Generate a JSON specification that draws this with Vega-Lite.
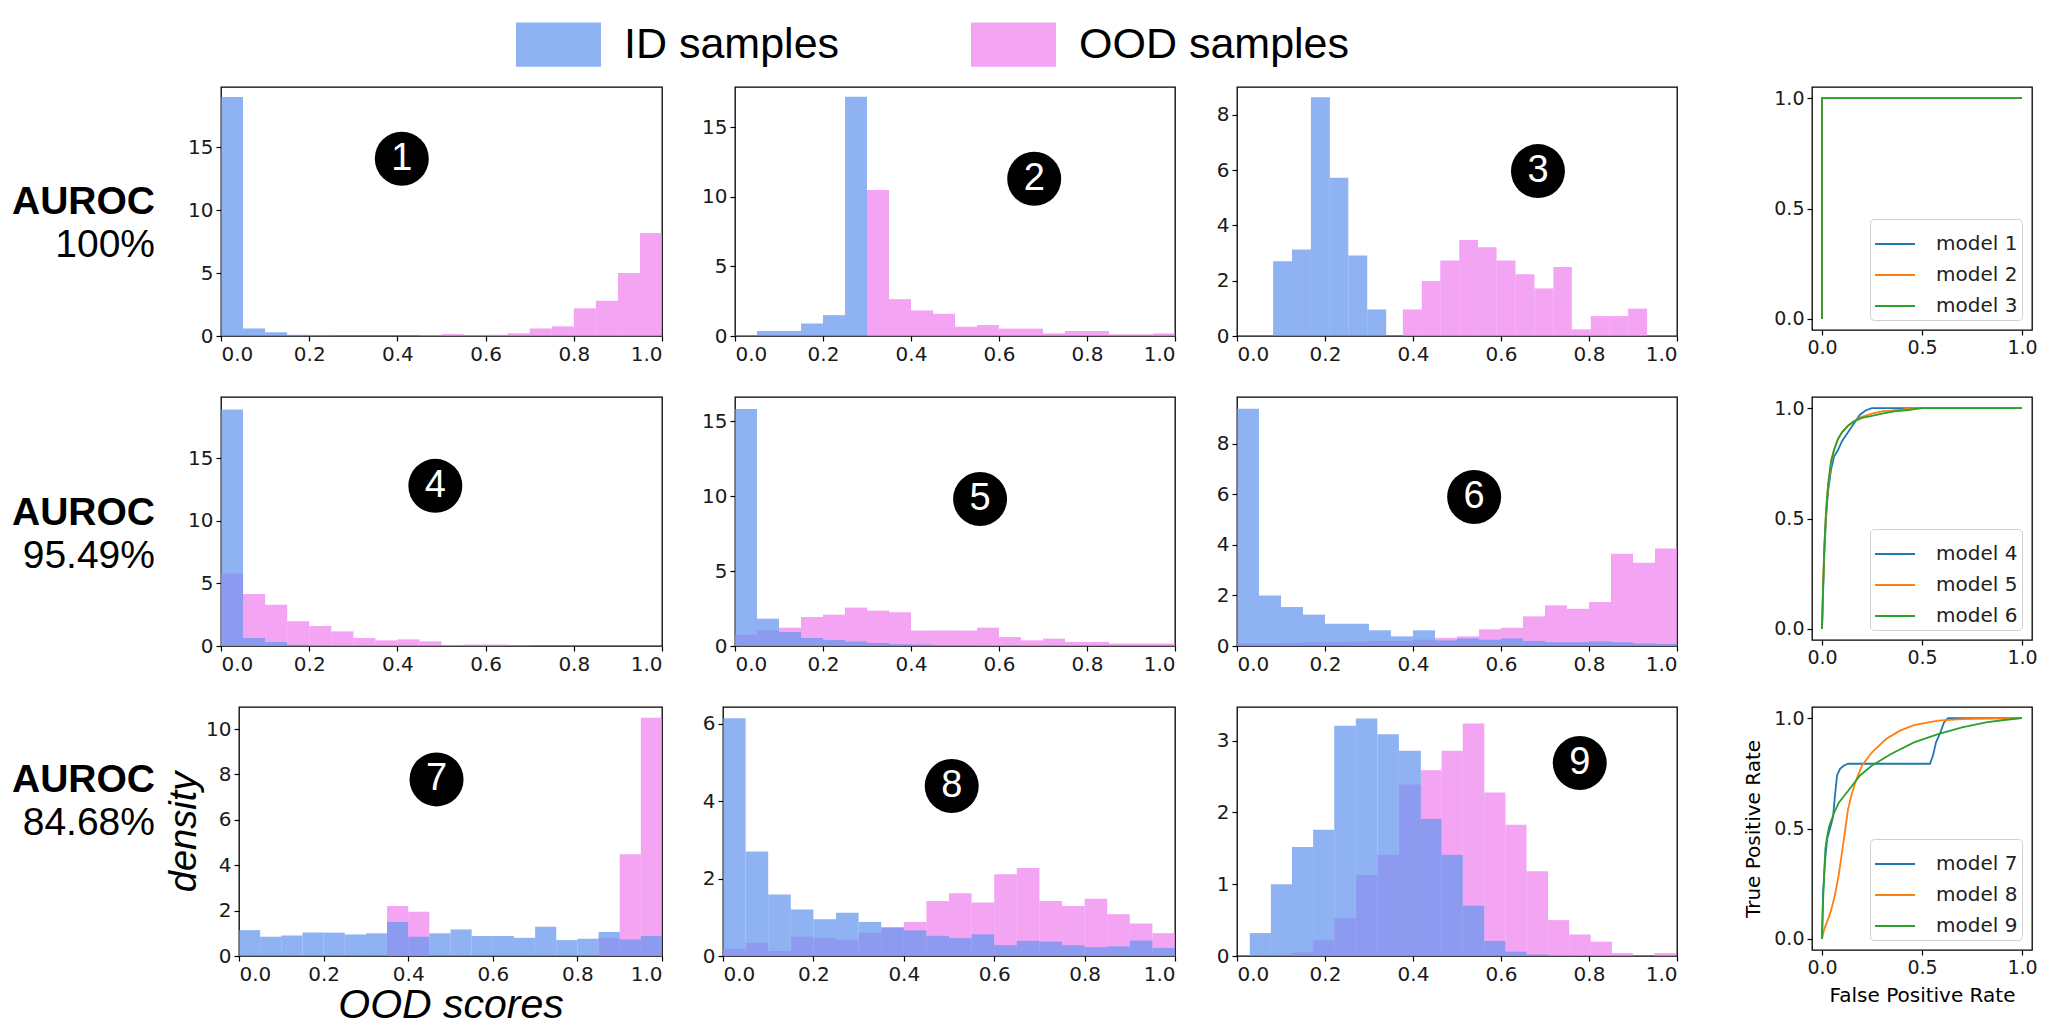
{
"$schema": "https://vega.github.io/schema/vega-lite/v6.json",
"background": "white",
"padding": {"left": 0, "top": 0, "right": 0, "bottom": 0},
"config": {
  "view": {"stroke": "black", "strokeWidth": 1.3},
  "axis": {"grid": false, "domain": false, "ticks": true, "tickColor": "black", "tickSize": 5, "tickWidth": 1.2, "labelFont": "DejaVu Sans", "labelFontSize": 20, "labelColor": "#1a1a1a", "labelPadding": 3, "titleColor": "black"}
},
"datasets": {
"auroc": [
{"row":1,"name":"AUROC","auroc":"100%"},
{"row":2,"name":"AUROC","auroc":"95.49%"},
{"row":3,"name":"AUROC","auroc":"84.68%"}
],
"marks": [
{"panel":1,"num":"1","x0":0.41,"density":14.1},
{"panel":2,"num":"2","x0":0.68,"density":11.3},
{"panel":3,"num":"3","x0":0.684,"density":5.96},
{"panel":4,"num":"4","x0":0.486,"density":12.8},
{"panel":5,"num":"5","x0":0.557,"density":9.8},
{"panel":6,"num":"6","x0":0.539,"density":5.89},
{"panel":7,"num":"7","x0":0.467,"density":7.78},
{"panel":8,"num":"8","x0":0.506,"density":4.39},
{"panel":9,"num":"9","x0":0.779,"density":2.69}
],
"hist": [
{"panel":1,"set":"OOD samples","x0":0.45,"x1":0.5,"density":0.05},
{"panel":1,"set":"OOD samples","x0":0.5,"x1":0.55,"density":0.15},
{"panel":1,"set":"OOD samples","x0":0.55,"x1":0.6,"density":0.05},
{"panel":1,"set":"OOD samples","x0":0.6,"x1":0.65,"density":0.1},
{"panel":1,"set":"OOD samples","x0":0.65,"x1":0.7,"density":0.22},
{"panel":1,"set":"OOD samples","x0":0.7,"x1":0.75,"density":0.6},
{"panel":1,"set":"OOD samples","x0":0.75,"x1":0.8,"density":0.77},
{"panel":1,"set":"OOD samples","x0":0.8,"x1":0.85,"density":2.2},
{"panel":1,"set":"OOD samples","x0":0.85,"x1":0.9,"density":2.8},
{"panel":1,"set":"OOD samples","x0":0.9,"x1":0.95,"density":5.0},
{"panel":1,"set":"OOD samples","x0":0.95,"x1":1.0,"density":8.2},
{"panel":1,"set":"ID samples","x0":0,"x1":0.05,"density":19.0},
{"panel":1,"set":"ID samples","x0":0.05,"x1":0.1,"density":0.6},
{"panel":1,"set":"ID samples","x0":0.1,"x1":0.15,"density":0.3},
{"panel":1,"set":"ID samples","x0":0.15,"x1":0.2,"density":0.1},
{"panel":1,"set":"ID samples","x0":0.2,"x1":0.25,"density":0.05},

{"panel":2,"set":"OOD samples","x0":0.3,"x1":0.35,"density":10.5},
{"panel":2,"set":"OOD samples","x0":0.35,"x1":0.4,"density":2.65},
{"panel":2,"set":"OOD samples","x0":0.4,"x1":0.45,"density":1.84},
{"panel":2,"set":"OOD samples","x0":0.45,"x1":0.5,"density":1.6},
{"panel":2,"set":"OOD samples","x0":0.5,"x1":0.55,"density":0.67},
{"panel":2,"set":"OOD samples","x0":0.55,"x1":0.6,"density":0.79},
{"panel":2,"set":"OOD samples","x0":0.6,"x1":0.65,"density":0.53},
{"panel":2,"set":"OOD samples","x0":0.65,"x1":0.7,"density":0.53},
{"panel":2,"set":"OOD samples","x0":0.7,"x1":0.75,"density":0.19},
{"panel":2,"set":"OOD samples","x0":0.75,"x1":0.8,"density":0.36},
{"panel":2,"set":"OOD samples","x0":0.8,"x1":0.85,"density":0.36},
{"panel":2,"set":"OOD samples","x0":0.85,"x1":0.9,"density":0.12},
{"panel":2,"set":"OOD samples","x0":0.9,"x1":0.95,"density":0.12},
{"panel":2,"set":"OOD samples","x0":0.95,"x1":1.0,"density":0.19},
{"panel":2,"set":"ID samples","x0":0,"x1":0.05,"density":0.05},
{"panel":2,"set":"ID samples","x0":0.05,"x1":0.1,"density":0.36},
{"panel":2,"set":"ID samples","x0":0.1,"x1":0.15,"density":0.36},
{"panel":2,"set":"ID samples","x0":0.15,"x1":0.2,"density":0.9},
{"panel":2,"set":"ID samples","x0":0.2,"x1":0.25,"density":1.5},
{"panel":2,"set":"ID samples","x0":0.25,"x1":0.3,"density":17.2},

{"panel":3,"set":"OOD samples","x0":0.377,"x1":0.42,"density":0.96},
{"panel":3,"set":"OOD samples","x0":0.42,"x1":0.462,"density":1.99},
{"panel":3,"set":"OOD samples","x0":0.462,"x1":0.505,"density":2.73},
{"panel":3,"set":"OOD samples","x0":0.505,"x1":0.548,"density":3.47},
{"panel":3,"set":"OOD samples","x0":0.548,"x1":0.59,"density":3.21},
{"panel":3,"set":"OOD samples","x0":0.59,"x1":0.633,"density":2.73},
{"panel":3,"set":"OOD samples","x0":0.633,"x1":0.676,"density":2.23},
{"panel":3,"set":"OOD samples","x0":0.676,"x1":0.719,"density":1.72},
{"panel":3,"set":"OOD samples","x0":0.719,"x1":0.761,"density":2.49},
{"panel":3,"set":"OOD samples","x0":0.761,"x1":0.804,"density":0.24},
{"panel":3,"set":"OOD samples","x0":0.804,"x1":0.847,"density":0.72},
{"panel":3,"set":"OOD samples","x0":0.847,"x1":0.889,"density":0.72},
{"panel":3,"set":"OOD samples","x0":0.889,"x1":0.932,"density":0.99},
{"panel":3,"set":"ID samples","x0":0.082,"x1":0.125,"density":2.7},
{"panel":3,"set":"ID samples","x0":0.125,"x1":0.168,"density":3.13},
{"panel":3,"set":"ID samples","x0":0.168,"x1":0.211,"density":8.63},
{"panel":3,"set":"ID samples","x0":0.211,"x1":0.253,"density":5.72},
{"panel":3,"set":"ID samples","x0":0.253,"x1":0.296,"density":2.91},
{"panel":3,"set":"ID samples","x0":0.296,"x1":0.339,"density":0.96},

{"panel":4,"set":"OOD samples","x0":0,"x1":0.05,"density":5.8},
{"panel":4,"set":"OOD samples","x0":0.05,"x1":0.1,"density":4.15},
{"panel":4,"set":"OOD samples","x0":0.1,"x1":0.15,"density":3.3},
{"panel":4,"set":"OOD samples","x0":0.15,"x1":0.2,"density":1.97},
{"panel":4,"set":"OOD samples","x0":0.2,"x1":0.25,"density":1.6},
{"panel":4,"set":"OOD samples","x0":0.25,"x1":0.3,"density":1.17},
{"panel":4,"set":"OOD samples","x0":0.3,"x1":0.35,"density":0.64},
{"panel":4,"set":"OOD samples","x0":0.35,"x1":0.4,"density":0.45},
{"panel":4,"set":"OOD samples","x0":0.4,"x1":0.45,"density":0.53},
{"panel":4,"set":"OOD samples","x0":0.45,"x1":0.5,"density":0.37},
{"panel":4,"set":"OOD samples","x0":0.5,"x1":0.55,"density":0.08},
{"panel":4,"set":"OOD samples","x0":0.55,"x1":0.6,"density":0.12},
{"panel":4,"set":"OOD samples","x0":0.6,"x1":0.65,"density":0.12},
{"panel":4,"set":"OOD samples","x0":0.65,"x1":0.7,"density":0.05},
{"panel":4,"set":"ID samples","x0":0,"x1":0.05,"density":18.9},
{"panel":4,"set":"ID samples","x0":0.05,"x1":0.1,"density":0.64},
{"panel":4,"set":"ID samples","x0":0.1,"x1":0.15,"density":0.32},
{"panel":4,"set":"ID samples","x0":0.15,"x1":0.2,"density":0.1},
{"panel":4,"set":"ID samples","x0":0.2,"x1":0.25,"density":0.05},

{"panel":5,"set":"OOD samples","x0":0,"x1":0.05,"density":0.76},
{"panel":5,"set":"OOD samples","x0":0.05,"x1":0.1,"density":1.04},
{"panel":5,"set":"OOD samples","x0":0.1,"x1":0.15,"density":1.22},
{"panel":5,"set":"OOD samples","x0":0.15,"x1":0.2,"density":1.93},
{"panel":5,"set":"OOD samples","x0":0.2,"x1":0.25,"density":2.09},
{"panel":5,"set":"OOD samples","x0":0.25,"x1":0.3,"density":2.56},
{"panel":5,"set":"OOD samples","x0":0.3,"x1":0.35,"density":2.36},
{"panel":5,"set":"OOD samples","x0":0.35,"x1":0.4,"density":2.25},
{"panel":5,"set":"OOD samples","x0":0.4,"x1":0.45,"density":1.03},
{"panel":5,"set":"OOD samples","x0":0.45,"x1":0.5,"density":1.04},
{"panel":5,"set":"OOD samples","x0":0.5,"x1":0.55,"density":1.03},
{"panel":5,"set":"OOD samples","x0":0.55,"x1":0.6,"density":1.22},
{"panel":5,"set":"OOD samples","x0":0.6,"x1":0.65,"density":0.6},
{"panel":5,"set":"OOD samples","x0":0.65,"x1":0.7,"density":0.38},
{"panel":5,"set":"OOD samples","x0":0.7,"x1":0.75,"density":0.49},
{"panel":5,"set":"OOD samples","x0":0.75,"x1":0.8,"density":0.27},
{"panel":5,"set":"OOD samples","x0":0.8,"x1":0.85,"density":0.27},
{"panel":5,"set":"OOD samples","x0":0.85,"x1":0.9,"density":0.16},
{"panel":5,"set":"OOD samples","x0":0.9,"x1":0.95,"density":0.16},
{"panel":5,"set":"OOD samples","x0":0.95,"x1":1.0,"density":0.16},
{"panel":5,"set":"ID samples","x0":0,"x1":0.05,"density":15.8},
{"panel":5,"set":"ID samples","x0":0.05,"x1":0.1,"density":1.82},
{"panel":5,"set":"ID samples","x0":0.1,"x1":0.15,"density":0.93},
{"panel":5,"set":"ID samples","x0":0.15,"x1":0.2,"density":0.53},
{"panel":5,"set":"ID samples","x0":0.2,"x1":0.25,"density":0.4},
{"panel":5,"set":"ID samples","x0":0.25,"x1":0.3,"density":0.3},
{"panel":5,"set":"ID samples","x0":0.3,"x1":0.35,"density":0.2},
{"panel":5,"set":"ID samples","x0":0.35,"x1":0.4,"density":0.12},
{"panel":5,"set":"ID samples","x0":0.4,"x1":0.45,"density":0.1},
{"panel":5,"set":"ID samples","x0":0.45,"x1":0.5,"density":0.05},
{"panel":5,"set":"ID samples","x0":0.5,"x1":0.55,"density":0.05},

{"panel":6,"set":"OOD samples","x0":0,"x1":0.05,"density":0.1},
{"panel":6,"set":"OOD samples","x0":0.05,"x1":0.1,"density":0.1},
{"panel":6,"set":"OOD samples","x0":0.1,"x1":0.15,"density":0.12},
{"panel":6,"set":"OOD samples","x0":0.15,"x1":0.2,"density":0.15},
{"panel":6,"set":"OOD samples","x0":0.2,"x1":0.25,"density":0.15},
{"panel":6,"set":"OOD samples","x0":0.25,"x1":0.3,"density":0.18},
{"panel":6,"set":"OOD samples","x0":0.3,"x1":0.35,"density":0.2},
{"panel":6,"set":"OOD samples","x0":0.35,"x1":0.4,"density":0.2},
{"panel":6,"set":"OOD samples","x0":0.4,"x1":0.45,"density":0.25},
{"panel":6,"set":"OOD samples","x0":0.45,"x1":0.5,"density":0.32},
{"panel":6,"set":"OOD samples","x0":0.5,"x1":0.55,"density":0.38},
{"panel":6,"set":"OOD samples","x0":0.55,"x1":0.6,"density":0.66},
{"panel":6,"set":"OOD samples","x0":0.6,"x1":0.65,"density":0.72},
{"panel":6,"set":"OOD samples","x0":0.65,"x1":0.7,"density":1.17},
{"panel":6,"set":"OOD samples","x0":0.7,"x1":0.75,"density":1.61},
{"panel":6,"set":"OOD samples","x0":0.75,"x1":0.8,"density":1.47},
{"panel":6,"set":"OOD samples","x0":0.8,"x1":0.85,"density":1.74},
{"panel":6,"set":"OOD samples","x0":0.85,"x1":0.9,"density":3.65},
{"panel":6,"set":"OOD samples","x0":0.9,"x1":0.95,"density":3.29},
{"panel":6,"set":"OOD samples","x0":0.95,"x1":1.0,"density":3.85},
{"panel":6,"set":"ID samples","x0":0,"x1":0.05,"density":9.38},
{"panel":6,"set":"ID samples","x0":0.05,"x1":0.1,"density":2.0},
{"panel":6,"set":"ID samples","x0":0.1,"x1":0.15,"density":1.54},
{"panel":6,"set":"ID samples","x0":0.15,"x1":0.2,"density":1.24},
{"panel":6,"set":"ID samples","x0":0.2,"x1":0.25,"density":0.88},
{"panel":6,"set":"ID samples","x0":0.25,"x1":0.3,"density":0.88},
{"panel":6,"set":"ID samples","x0":0.3,"x1":0.35,"density":0.62},
{"panel":6,"set":"ID samples","x0":0.35,"x1":0.4,"density":0.38},
{"panel":6,"set":"ID samples","x0":0.4,"x1":0.45,"density":0.62},
{"panel":6,"set":"ID samples","x0":0.45,"x1":0.5,"density":0.22},
{"panel":6,"set":"ID samples","x0":0.5,"x1":0.55,"density":0.3},
{"panel":6,"set":"ID samples","x0":0.55,"x1":0.6,"density":0.25},
{"panel":6,"set":"ID samples","x0":0.6,"x1":0.65,"density":0.3},
{"panel":6,"set":"ID samples","x0":0.65,"x1":0.7,"density":0.2},
{"panel":6,"set":"ID samples","x0":0.7,"x1":0.75,"density":0.15},
{"panel":6,"set":"ID samples","x0":0.75,"x1":0.8,"density":0.15},
{"panel":6,"set":"ID samples","x0":0.8,"x1":0.85,"density":0.18},
{"panel":6,"set":"ID samples","x0":0.85,"x1":0.9,"density":0.15},
{"panel":6,"set":"ID samples","x0":0.9,"x1":0.95,"density":0.1},
{"panel":6,"set":"ID samples","x0":0.95,"x1":1.0,"density":0.08},

{"panel":7,"set":"OOD samples","x0":0.35,"x1":0.4,"density":2.2},
{"panel":7,"set":"OOD samples","x0":0.4,"x1":0.45,"density":1.95},
{"panel":7,"set":"OOD samples","x0":0.85,"x1":0.9,"density":0.8},
{"panel":7,"set":"OOD samples","x0":0.9,"x1":0.95,"density":4.48},
{"panel":7,"set":"OOD samples","x0":0.95,"x1":1.0,"density":10.5},
{"panel":7,"set":"ID samples","x0":0,"x1":0.05,"density":1.14},
{"panel":7,"set":"ID samples","x0":0.05,"x1":0.1,"density":0.85},
{"panel":7,"set":"ID samples","x0":0.1,"x1":0.15,"density":0.9},
{"panel":7,"set":"ID samples","x0":0.15,"x1":0.2,"density":1.03},
{"panel":7,"set":"ID samples","x0":0.2,"x1":0.25,"density":1.03},
{"panel":7,"set":"ID samples","x0":0.25,"x1":0.3,"density":0.95},
{"panel":7,"set":"ID samples","x0":0.3,"x1":0.35,"density":1.0},
{"panel":7,"set":"ID samples","x0":0.35,"x1":0.4,"density":1.5},
{"panel":7,"set":"ID samples","x0":0.4,"x1":0.45,"density":0.85},
{"panel":7,"set":"ID samples","x0":0.45,"x1":0.5,"density":1.0},
{"panel":7,"set":"ID samples","x0":0.5,"x1":0.55,"density":1.17},
{"panel":7,"set":"ID samples","x0":0.55,"x1":0.6,"density":0.88},
{"panel":7,"set":"ID samples","x0":0.6,"x1":0.65,"density":0.88},
{"panel":7,"set":"ID samples","x0":0.65,"x1":0.7,"density":0.8},
{"panel":7,"set":"ID samples","x0":0.7,"x1":0.75,"density":1.29},
{"panel":7,"set":"ID samples","x0":0.75,"x1":0.8,"density":0.7},
{"panel":7,"set":"ID samples","x0":0.8,"x1":0.85,"density":0.76},
{"panel":7,"set":"ID samples","x0":0.85,"x1":0.9,"density":1.06},
{"panel":7,"set":"ID samples","x0":0.9,"x1":0.95,"density":0.73},
{"panel":7,"set":"ID samples","x0":0.95,"x1":1.0,"density":0.88},

{"panel":8,"set":"OOD samples","x0":0,"x1":0.05,"density":0.19},
{"panel":8,"set":"OOD samples","x0":0.05,"x1":0.1,"density":0.34},
{"panel":8,"set":"OOD samples","x0":0.1,"x1":0.15,"density":0.13},
{"panel":8,"set":"OOD samples","x0":0.15,"x1":0.2,"density":0.5},
{"panel":8,"set":"OOD samples","x0":0.2,"x1":0.25,"density":0.46},
{"panel":8,"set":"OOD samples","x0":0.25,"x1":0.3,"density":0.42},
{"panel":8,"set":"OOD samples","x0":0.3,"x1":0.35,"density":0.6},
{"panel":8,"set":"OOD samples","x0":0.35,"x1":0.4,"density":0.75},
{"panel":8,"set":"OOD samples","x0":0.4,"x1":0.45,"density":0.88},
{"panel":8,"set":"OOD samples","x0":0.45,"x1":0.5,"density":1.42},
{"panel":8,"set":"OOD samples","x0":0.5,"x1":0.55,"density":1.62},
{"panel":8,"set":"OOD samples","x0":0.55,"x1":0.6,"density":1.38},
{"panel":8,"set":"OOD samples","x0":0.6,"x1":0.65,"density":2.11},
{"panel":8,"set":"OOD samples","x0":0.65,"x1":0.7,"density":2.27},
{"panel":8,"set":"OOD samples","x0":0.7,"x1":0.75,"density":1.42},
{"panel":8,"set":"OOD samples","x0":0.75,"x1":0.8,"density":1.29},
{"panel":8,"set":"OOD samples","x0":0.8,"x1":0.85,"density":1.48},
{"panel":8,"set":"OOD samples","x0":0.85,"x1":0.9,"density":1.08},
{"panel":8,"set":"OOD samples","x0":0.9,"x1":0.95,"density":0.84},
{"panel":8,"set":"OOD samples","x0":0.95,"x1":1.0,"density":0.59},
{"panel":8,"set":"ID samples","x0":0,"x1":0.05,"density":6.14},
{"panel":8,"set":"ID samples","x0":0.05,"x1":0.1,"density":2.7},
{"panel":8,"set":"ID samples","x0":0.1,"x1":0.15,"density":1.59},
{"panel":8,"set":"ID samples","x0":0.15,"x1":0.2,"density":1.2},
{"panel":8,"set":"ID samples","x0":0.2,"x1":0.25,"density":0.95},
{"panel":8,"set":"ID samples","x0":0.25,"x1":0.3,"density":1.12},
{"panel":8,"set":"ID samples","x0":0.3,"x1":0.35,"density":0.88},
{"panel":8,"set":"ID samples","x0":0.35,"x1":0.4,"density":0.73},
{"panel":8,"set":"ID samples","x0":0.4,"x1":0.45,"density":0.66},
{"panel":8,"set":"ID samples","x0":0.45,"x1":0.5,"density":0.52},
{"panel":8,"set":"ID samples","x0":0.5,"x1":0.55,"density":0.46},
{"panel":8,"set":"ID samples","x0":0.55,"x1":0.6,"density":0.56},
{"panel":8,"set":"ID samples","x0":0.6,"x1":0.65,"density":0.28},
{"panel":8,"set":"ID samples","x0":0.65,"x1":0.7,"density":0.39},
{"panel":8,"set":"ID samples","x0":0.7,"x1":0.75,"density":0.37},
{"panel":8,"set":"ID samples","x0":0.75,"x1":0.8,"density":0.28},
{"panel":8,"set":"ID samples","x0":0.8,"x1":0.85,"density":0.23},
{"panel":8,"set":"ID samples","x0":0.85,"x1":0.9,"density":0.25},
{"panel":8,"set":"ID samples","x0":0.9,"x1":0.95,"density":0.4},
{"panel":8,"set":"ID samples","x0":0.95,"x1":1.0,"density":0.21},

{"panel":9,"set":"OOD samples","x0":0.125,"x1":0.173,"density":0.05},
{"panel":9,"set":"OOD samples","x0":0.173,"x1":0.221,"density":0.22},
{"panel":9,"set":"OOD samples","x0":0.221,"x1":0.27,"density":0.53},
{"panel":9,"set":"OOD samples","x0":0.27,"x1":0.319,"density":1.13},
{"panel":9,"set":"OOD samples","x0":0.319,"x1":0.368,"density":1.41},
{"panel":9,"set":"OOD samples","x0":0.368,"x1":0.418,"density":2.39},
{"panel":9,"set":"OOD samples","x0":0.418,"x1":0.465,"density":2.59},
{"panel":9,"set":"OOD samples","x0":0.465,"x1":0.513,"density":2.86},
{"panel":9,"set":"OOD samples","x0":0.513,"x1":0.562,"density":3.24},
{"panel":9,"set":"OOD samples","x0":0.562,"x1":0.61,"density":2.28},
{"panel":9,"set":"OOD samples","x0":0.61,"x1":0.658,"density":1.83},
{"panel":9,"set":"OOD samples","x0":0.658,"x1":0.707,"density":1.18},
{"panel":9,"set":"OOD samples","x0":0.707,"x1":0.755,"density":0.5},
{"panel":9,"set":"OOD samples","x0":0.755,"x1":0.804,"density":0.3},
{"panel":9,"set":"OOD samples","x0":0.804,"x1":0.852,"density":0.2},
{"panel":9,"set":"OOD samples","x0":0.852,"x1":0.9,"density":0.04},
{"panel":9,"set":"OOD samples","x0":0.949,"x1":0.997,"density":0.04},
{"panel":9,"set":"ID samples","x0":0.029,"x1":0.077,"density":0.32},
{"panel":9,"set":"ID samples","x0":0.077,"x1":0.125,"density":1.0},
{"panel":9,"set":"ID samples","x0":0.125,"x1":0.173,"density":1.52},
{"panel":9,"set":"ID samples","x0":0.173,"x1":0.221,"density":1.76},
{"panel":9,"set":"ID samples","x0":0.221,"x1":0.27,"density":3.21},
{"panel":9,"set":"ID samples","x0":0.27,"x1":0.319,"density":3.31},
{"panel":9,"set":"ID samples","x0":0.319,"x1":0.368,"density":3.09},
{"panel":9,"set":"ID samples","x0":0.368,"x1":0.418,"density":2.86},
{"panel":9,"set":"ID samples","x0":0.418,"x1":0.465,"density":1.91},
{"panel":9,"set":"ID samples","x0":0.465,"x1":0.513,"density":1.41},
{"panel":9,"set":"ID samples","x0":0.513,"x1":0.562,"density":0.7},
{"panel":9,"set":"ID samples","x0":0.562,"x1":0.61,"density":0.21},
{"panel":9,"set":"ID samples","x0":0.61,"x1":0.658,"density":0.06},
{"panel":9,"set":"ID samples","x0":0.658,"x1":0.707,"density":0.02}
],
"roc": [
{"row":1,"model":"model 1","i":0,"fpr":0,"tpr":0},{"row":1,"model":"model 1","i":1,"fpr":0,"tpr":1},{"row":1,"model":"model 1","i":2,"fpr":1,"tpr":1},
{"row":1,"model":"model 2","i":0,"fpr":0,"tpr":0},{"row":1,"model":"model 2","i":1,"fpr":0,"tpr":1},{"row":1,"model":"model 2","i":2,"fpr":1,"tpr":1},
{"row":1,"model":"model 3","i":0,"fpr":0,"tpr":0},{"row":1,"model":"model 3","i":1,"fpr":0,"tpr":1},{"row":1,"model":"model 3","i":2,"fpr":1,"tpr":1},

{"row":2,"model":"model 4","i":0,"fpr":0,"tpr":0},{"row":2,"model":"model 4","i":1,"fpr":0.005,"tpr":0.15},{"row":2,"model":"model 4","i":2,"fpr":0.012,"tpr":0.35},{"row":2,"model":"model 4","i":3,"fpr":0.02,"tpr":0.5},{"row":2,"model":"model 4","i":4,"fpr":0.03,"tpr":0.62},{"row":2,"model":"model 4","i":5,"fpr":0.045,"tpr":0.72},{"row":2,"model":"model 4","i":6,"fpr":0.06,"tpr":0.78},{"row":2,"model":"model 4","i":7,"fpr":0.08,"tpr":0.81},{"row":2,"model":"model 4","i":8,"fpr":0.1,"tpr":0.85},{"row":2,"model":"model 4","i":9,"fpr":0.13,"tpr":0.89},{"row":2,"model":"model 4","i":10,"fpr":0.16,"tpr":0.93},{"row":2,"model":"model 4","i":11,"fpr":0.19,"tpr":0.97},{"row":2,"model":"model 4","i":12,"fpr":0.22,"tpr":0.99},{"row":2,"model":"model 4","i":13,"fpr":0.25,"tpr":1.0},{"row":2,"model":"model 4","i":14,"fpr":1,"tpr":1},
{"row":2,"model":"model 5","i":0,"fpr":0,"tpr":0},{"row":2,"model":"model 5","i":1,"fpr":0.005,"tpr":0.18},{"row":2,"model":"model 5","i":2,"fpr":0.012,"tpr":0.38},{"row":2,"model":"model 5","i":3,"fpr":0.02,"tpr":0.52},{"row":2,"model":"model 5","i":4,"fpr":0.03,"tpr":0.64},{"row":2,"model":"model 5","i":5,"fpr":0.045,"tpr":0.75},{"row":2,"model":"model 5","i":6,"fpr":0.06,"tpr":0.81},{"row":2,"model":"model 5","i":7,"fpr":0.08,"tpr":0.86},{"row":2,"model":"model 5","i":8,"fpr":0.1,"tpr":0.89},{"row":2,"model":"model 5","i":9,"fpr":0.13,"tpr":0.92},{"row":2,"model":"model 5","i":10,"fpr":0.16,"tpr":0.94},{"row":2,"model":"model 5","i":11,"fpr":0.2,"tpr":0.96},{"row":2,"model":"model 5","i":12,"fpr":0.25,"tpr":0.975},{"row":2,"model":"model 5","i":13,"fpr":0.3,"tpr":0.985},{"row":2,"model":"model 5","i":14,"fpr":0.4,"tpr":0.993},{"row":2,"model":"model 5","i":15,"fpr":0.45,"tpr":1.0},{"row":2,"model":"model 5","i":16,"fpr":1,"tpr":1},
{"row":2,"model":"model 6","i":0,"fpr":0,"tpr":0},{"row":2,"model":"model 6","i":1,"fpr":0.005,"tpr":0.18},{"row":2,"model":"model 6","i":2,"fpr":0.012,"tpr":0.38},{"row":2,"model":"model 6","i":3,"fpr":0.02,"tpr":0.53},{"row":2,"model":"model 6","i":4,"fpr":0.03,"tpr":0.65},{"row":2,"model":"model 6","i":5,"fpr":0.045,"tpr":0.76},{"row":2,"model":"model 6","i":6,"fpr":0.06,"tpr":0.81},{"row":2,"model":"model 6","i":7,"fpr":0.08,"tpr":0.86},{"row":2,"model":"model 6","i":8,"fpr":0.1,"tpr":0.89},{"row":2,"model":"model 6","i":9,"fpr":0.13,"tpr":0.92},{"row":2,"model":"model 6","i":10,"fpr":0.16,"tpr":0.94},{"row":2,"model":"model 6","i":11,"fpr":0.2,"tpr":0.955},{"row":2,"model":"model 6","i":12,"fpr":0.25,"tpr":0.965},{"row":2,"model":"model 6","i":13,"fpr":0.3,"tpr":0.975},{"row":2,"model":"model 6","i":14,"fpr":0.36,"tpr":0.985},{"row":2,"model":"model 6","i":15,"fpr":0.42,"tpr":0.99},{"row":2,"model":"model 6","i":16,"fpr":0.5,"tpr":1.0},{"row":2,"model":"model 6","i":17,"fpr":1,"tpr":1},

{"row":3,"model":"model 7","i":0,"fpr":0,"tpr":0},{"row":3,"model":"model 7","i":1,"fpr":0.005,"tpr":0.2},{"row":3,"model":"model 7","i":2,"fpr":0.015,"tpr":0.35},{"row":3,"model":"model 7","i":3,"fpr":0.025,"tpr":0.45},{"row":3,"model":"model 7","i":4,"fpr":0.04,"tpr":0.5},{"row":3,"model":"model 7","i":5,"fpr":0.055,"tpr":0.55},{"row":3,"model":"model 7","i":6,"fpr":0.065,"tpr":0.65},{"row":3,"model":"model 7","i":7,"fpr":0.075,"tpr":0.74},{"row":3,"model":"model 7","i":8,"fpr":0.09,"tpr":0.77},{"row":3,"model":"model 7","i":9,"fpr":0.11,"tpr":0.785},{"row":3,"model":"model 7","i":10,"fpr":0.13,"tpr":0.793},{"row":3,"model":"model 7","i":11,"fpr":0.54,"tpr":0.793},{"row":3,"model":"model 7","i":12,"fpr":0.555,"tpr":0.83},{"row":3,"model":"model 7","i":13,"fpr":0.57,"tpr":0.89},{"row":3,"model":"model 7","i":14,"fpr":0.59,"tpr":0.93},{"row":3,"model":"model 7","i":15,"fpr":0.61,"tpr":0.98},{"row":3,"model":"model 7","i":16,"fpr":0.63,"tpr":1.0},{"row":3,"model":"model 7","i":17,"fpr":1,"tpr":1},
{"row":3,"model":"model 8","i":0,"fpr":0,"tpr":0},{"row":3,"model":"model 8","i":1,"fpr":0.01,"tpr":0.04},{"row":3,"model":"model 8","i":2,"fpr":0.024,"tpr":0.075},{"row":3,"model":"model 8","i":3,"fpr":0.035,"tpr":0.1},{"row":3,"model":"model 8","i":4,"fpr":0.047,"tpr":0.135},{"row":3,"model":"model 8","i":5,"fpr":0.065,"tpr":0.2},{"row":3,"model":"model 8","i":6,"fpr":0.083,"tpr":0.287},{"row":3,"model":"model 8","i":7,"fpr":0.095,"tpr":0.36},{"row":3,"model":"model 8","i":8,"fpr":0.107,"tpr":0.436},{"row":3,"model":"model 8","i":9,"fpr":0.12,"tpr":0.52},{"row":3,"model":"model 8","i":10,"fpr":0.13,"tpr":0.586},{"row":3,"model":"model 8","i":11,"fpr":0.15,"tpr":0.66},{"row":3,"model":"model 8","i":12,"fpr":0.167,"tpr":0.71},{"row":3,"model":"model 8","i":13,"fpr":0.2,"tpr":0.785},{"row":3,"model":"model 8","i":14,"fpr":0.25,"tpr":0.845},{"row":3,"model":"model 8","i":15,"fpr":0.32,"tpr":0.905},{"row":3,"model":"model 8","i":16,"fpr":0.39,"tpr":0.943},{"row":3,"model":"model 8","i":17,"fpr":0.46,"tpr":0.968},{"row":3,"model":"model 8","i":18,"fpr":0.58,"tpr":0.988},{"row":3,"model":"model 8","i":19,"fpr":0.7,"tpr":0.995},{"row":3,"model":"model 8","i":20,"fpr":1,"tpr":1},
{"row":3,"model":"model 9","i":0,"fpr":0,"tpr":0},{"row":3,"model":"model 9","i":1,"fpr":0.003,"tpr":0.1},{"row":3,"model":"model 9","i":2,"fpr":0.007,"tpr":0.21},{"row":3,"model":"model 9","i":3,"fpr":0.012,"tpr":0.32},{"row":3,"model":"model 9","i":4,"fpr":0.017,"tpr":0.41},{"row":3,"model":"model 9","i":5,"fpr":0.025,"tpr":0.46},{"row":3,"model":"model 9","i":6,"fpr":0.036,"tpr":0.51},{"row":3,"model":"model 9","i":7,"fpr":0.06,"tpr":0.57},{"row":3,"model":"model 9","i":8,"fpr":0.083,"tpr":0.616},{"row":3,"model":"model 9","i":9,"fpr":0.13,"tpr":0.67},{"row":3,"model":"model 9","i":10,"fpr":0.19,"tpr":0.74},{"row":3,"model":"model 9","i":11,"fpr":0.25,"tpr":0.785},{"row":3,"model":"model 9","i":12,"fpr":0.345,"tpr":0.837},{"row":3,"model":"model 9","i":13,"fpr":0.46,"tpr":0.89},{"row":3,"model":"model 9","i":14,"fpr":0.58,"tpr":0.927},{"row":3,"model":"model 9","i":15,"fpr":0.7,"tpr":0.958},{"row":3,"model":"model 9","i":16,"fpr":0.82,"tpr":0.98},{"row":3,"model":"model 9","i":17,"fpr":0.9,"tpr":0.99},{"row":3,"model":"model 9","i":18,"fpr":1,"tpr":1}
]
},
"spacing": 31,
"resolve": {"scale": {"color": "independent"}, "legend": {"color": "independent"}},
"vconcat": [
{"spacing": 0, "bounds": "flush", "resolve": {"scale": {"color": "independent"}, "legend": {"color": "independent"}},
 "hconcat": [
{"width": 155, "height": 249, "view": {"stroke": null, "fill": "white"}, "data": {"name": "auroc"}, "transform": [{"filter": "datum.row == 1"}],
 "encoding": {"x": {"value": "width"}},
 "layer": [
  {"transform": [{"calculate": "[datum.name, '']", "as": "lines"}], "mark": {"type": "text", "align": "right", "baseline": "middle", "font": "Liberation Sans", "fontWeight": "bold", "fontSize": 39, "lineHeight": 43, "dy": -10, "color": "black"}, "encoding": {"text": {"field": "lines"}}},
  {"transform": [{"calculate": "['', datum.auroc]", "as": "lines"}], "mark": {"type": "text", "align": "right", "baseline": "middle", "font": "Liberation Sans", "fontSize": 39, "lineHeight": 43, "dy": -10, "color": "black"}, "encoding": {"text": {"field": "lines"}}}
 ]},
{"width": 66, "height": 249, "view": {"stroke": null}, "data": {"values": []}, "mark": "point"},
{"width": 441, "height": 249,
 "encoding": {
  "x": {"field": "x0", "type": "quantitative", "scale": {"domain": [0, 1], "nice": false, "zero": false}, "axis": {"values": [0, 0.2, 0.4, 0.6, 0.8, 1], "format": ".1f", "title": null}},
  "y": {"field": "density", "type": "quantitative", "scale": {"domain": [0, 19.8], "nice": false}, "axis": {"values": [0, 5, 10, 15], "title": null}}},
 "layer": [
  {"data": {"name": "hist"}, "transform": [{"filter": "datum.panel == 1"}], "mark": {"type": "rect", "opacity": 0.72}, "encoding": {"x2": {"field": "x1"}, "y2": {"datum": 0}, "color": {"field": "set", "type": "nominal", "scale": {"domain": ["ID samples", "OOD samples"], "range": ["#6495ED", "#EE82EE"]}, "legend": null}}},
  {"data": {"name": "marks"}, "transform": [{"filter": "datum.panel == 1"}], "mark": {"type": "point", "shape": "circle", "filled": true, "size": 2916, "color": "black", "opacity": 1}},
  {"data": {"name": "marks"}, "transform": [{"filter": "datum.panel == 1"}], "mark": {"type": "text", "color": "white", "fontSize": 38, "font": "Liberation Sans", "align": "center", "baseline": "middle"}, "encoding": {"text": {"field": "num"}}}
 ]},
{"width": 73, "height": 249, "view": {"stroke": null}, "data": {"values": []}, "mark": "point"},
{"width": 440, "height": 249,
 "encoding": {
  "x": {"field": "x0", "type": "quantitative", "scale": {"domain": [0, 1], "nice": false, "zero": false}, "axis": {"values": [0, 0.2, 0.4, 0.6, 0.8, 1], "format": ".1f", "title": null}},
  "y": {"field": "density", "type": "quantitative", "scale": {"domain": [0, 17.9], "nice": false}, "axis": {"values": [0, 5, 10, 15], "title": null}}},
 "layer": [
  {"data": {"name": "hist"}, "transform": [{"filter": "datum.panel == 2"}], "mark": {"type": "rect", "opacity": 0.72}, "encoding": {"x2": {"field": "x1"}, "y2": {"datum": 0}, "color": {"field": "set", "type": "nominal", "scale": {"domain": ["ID samples", "OOD samples"], "range": ["#6495ED", "#EE82EE"]},
    "legend": {"orient": "none", "legendX": -220, "legendY": -86, "direction": "horizontal", "title": null, "symbolType": "M-1,-0.52L1,-0.52L1,0.52L-1,0.52Z", "symbolSize": 7225, "labelFontSize": 43, "labelFont": "Liberation Sans", "labelOffset": 22, "columnPadding": 130, "labelColor": "black", "labelLimit": 400}}}},
  {"data": {"name": "marks"}, "transform": [{"filter": "datum.panel == 2"}], "mark": {"type": "point", "shape": "circle", "filled": true, "size": 2916, "color": "black", "opacity": 1}},
  {"data": {"name": "marks"}, "transform": [{"filter": "datum.panel == 2"}], "mark": {"type": "text", "color": "white", "fontSize": 38, "font": "Liberation Sans", "align": "center", "baseline": "middle"}, "encoding": {"text": {"field": "num"}}}
 ]},
{"width": 62, "height": 249, "view": {"stroke": null}, "data": {"values": []}, "mark": "point"},
{"width": 440, "height": 249,
 "encoding": {
  "x": {"field": "x0", "type": "quantitative", "scale": {"domain": [0, 1], "nice": false, "zero": false}, "axis": {"values": [0, 0.2, 0.4, 0.6, 0.8, 1], "format": ".1f", "title": null}},
  "y": {"field": "density", "type": "quantitative", "scale": {"domain": [0, 9.0], "nice": false}, "axis": {"values": [0, 2, 4, 6, 8], "title": null}}},
 "layer": [
  {"data": {"name": "hist"}, "transform": [{"filter": "datum.panel == 3"}], "mark": {"type": "rect", "opacity": 0.72}, "encoding": {"x2": {"field": "x1"}, "y2": {"datum": 0}, "color": {"field": "set", "type": "nominal", "scale": {"domain": ["ID samples", "OOD samples"], "range": ["#6495ED", "#EE82EE"]}, "legend": null}}},
  {"data": {"name": "marks"}, "transform": [{"filter": "datum.panel == 3"}], "mark": {"type": "point", "shape": "circle", "filled": true, "size": 2916, "color": "black", "opacity": 1}},
  {"data": {"name": "marks"}, "transform": [{"filter": "datum.panel == 3"}], "mark": {"type": "text", "color": "white", "fontSize": 38, "font": "Liberation Sans", "align": "center", "baseline": "middle"}, "encoding": {"text": {"field": "num"}}}
 ]},
{"width": 135, "height": 249, "view": {"stroke": null}, "data": {"values": []}, "mark": "point"},
{"width": 220, "height": 243, "data": {"name": "roc"}, "transform": [{"filter": "datum.row == 1"}],
 "mark": {"type": "line", "strokeWidth": 1.8},
 "encoding": {
  "x": {"field": "fpr", "type": "quantitative", "scale": {"domain": [-0.05, 1.05], "nice": false, "zero": false}, "axis": {"values": [0, 0.5, 1], "format": ".1f", "title": null, "labelFontSize": 19}},
  "y": {"field": "tpr", "type": "quantitative", "scale": {"domain": [-0.05, 1.05], "nice": false, "zero": false}, "axis": {"values": [0, 0.5, 1], "format": ".1f", "title": null, "labelFontSize": 19}},
  "order": {"field": "i", "type": "quantitative"},
  "color": {"field": "model", "type": "nominal", "scale": {"domain": ["model 1", "model 2", "model 3"], "range": ["#1f77b4", "#ff7f0e", "#2ca02c"]},
   "legend": {"orient": "bottom-right", "title": null, "offset": 10, "padding": 4, "strokeColor": "#d0d0d0", "fillColor": "white", "cornerRadius": 4, "symbolType": "stroke", "symbolSize": 1600, "symbolStrokeWidth": 2, "labelFontSize": 20, "labelFont": "DejaVu Sans", "labelOffset": 20, "rowPadding": -8, "labelColor": "#222"}}
 }}
 ]},

{"spacing": 0, "bounds": "flush", "resolve": {"scale": {"color": "independent"}, "legend": {"color": "independent"}},
 "hconcat": [
{"width": 155, "height": 249, "view": {"stroke": null, "fill": "white"}, "data": {"name": "auroc"}, "transform": [{"filter": "datum.row == 2"}],
 "encoding": {"x": {"value": "width"}},
 "layer": [
  {"transform": [{"calculate": "[datum.name, '']", "as": "lines"}], "mark": {"type": "text", "align": "right", "baseline": "middle", "font": "Liberation Sans", "fontWeight": "bold", "fontSize": 39, "lineHeight": 43, "dy": -9, "color": "black"}, "encoding": {"text": {"field": "lines"}}},
  {"transform": [{"calculate": "['', datum.auroc]", "as": "lines"}], "mark": {"type": "text", "align": "right", "baseline": "middle", "font": "Liberation Sans", "fontSize": 39, "lineHeight": 43, "dy": -9, "color": "black"}, "encoding": {"text": {"field": "lines"}}}
 ]},
{"width": 66, "height": 249, "view": {"stroke": null}, "data": {"values": []}, "mark": "point"},
{"width": 441, "height": 249,
 "encoding": {
  "x": {"field": "x0", "type": "quantitative", "scale": {"domain": [0, 1], "nice": false, "zero": false}, "axis": {"values": [0, 0.2, 0.4, 0.6, 0.8, 1], "format": ".1f", "title": null}},
  "y": {"field": "density", "type": "quantitative", "scale": {"domain": [0, 19.9], "nice": false}, "axis": {"values": [0, 5, 10, 15], "title": null}}},
 "layer": [
  {"data": {"name": "hist"}, "transform": [{"filter": "datum.panel == 4"}], "mark": {"type": "rect", "opacity": 0.72}, "encoding": {"x2": {"field": "x1"}, "y2": {"datum": 0}, "color": {"field": "set", "type": "nominal", "scale": {"domain": ["ID samples", "OOD samples"], "range": ["#6495ED", "#EE82EE"]}, "legend": null}}},
  {"data": {"name": "marks"}, "transform": [{"filter": "datum.panel == 4"}], "mark": {"type": "point", "shape": "circle", "filled": true, "size": 2916, "color": "black", "opacity": 1}},
  {"data": {"name": "marks"}, "transform": [{"filter": "datum.panel == 4"}], "mark": {"type": "text", "color": "white", "fontSize": 38, "font": "Liberation Sans", "align": "center", "baseline": "middle"}, "encoding": {"text": {"field": "num"}}}
 ]},
{"width": 73, "height": 249, "view": {"stroke": null}, "data": {"values": []}, "mark": "point"},
{"width": 440, "height": 249,
 "encoding": {
  "x": {"field": "x0", "type": "quantitative", "scale": {"domain": [0, 1], "nice": false, "zero": false}, "axis": {"values": [0, 0.2, 0.4, 0.6, 0.8, 1], "format": ".1f", "title": null}},
  "y": {"field": "density", "type": "quantitative", "scale": {"domain": [0, 16.6], "nice": false}, "axis": {"values": [0, 5, 10, 15], "title": null}}},
 "layer": [
  {"data": {"name": "hist"}, "transform": [{"filter": "datum.panel == 5"}], "mark": {"type": "rect", "opacity": 0.72}, "encoding": {"x2": {"field": "x1"}, "y2": {"datum": 0}, "color": {"field": "set", "type": "nominal", "scale": {"domain": ["ID samples", "OOD samples"], "range": ["#6495ED", "#EE82EE"]}, "legend": null}}},
  {"data": {"name": "marks"}, "transform": [{"filter": "datum.panel == 5"}], "mark": {"type": "point", "shape": "circle", "filled": true, "size": 2916, "color": "black", "opacity": 1}},
  {"data": {"name": "marks"}, "transform": [{"filter": "datum.panel == 5"}], "mark": {"type": "text", "color": "white", "fontSize": 38, "font": "Liberation Sans", "align": "center", "baseline": "middle"}, "encoding": {"text": {"field": "num"}}}
 ]},
{"width": 62, "height": 249, "view": {"stroke": null}, "data": {"values": []}, "mark": "point"},
{"width": 440, "height": 249,
 "encoding": {
  "x": {"field": "x0", "type": "quantitative", "scale": {"domain": [0, 1], "nice": false, "zero": false}, "axis": {"values": [0, 0.2, 0.4, 0.6, 0.8, 1], "format": ".1f", "title": null}},
  "y": {"field": "density", "type": "quantitative", "scale": {"domain": [0, 9.84], "nice": false}, "axis": {"values": [0, 2, 4, 6, 8], "title": null}}},
 "layer": [
  {"data": {"name": "hist"}, "transform": [{"filter": "datum.panel == 6"}], "mark": {"type": "rect", "opacity": 0.72}, "encoding": {"x2": {"field": "x1"}, "y2": {"datum": 0}, "color": {"field": "set", "type": "nominal", "scale": {"domain": ["ID samples", "OOD samples"], "range": ["#6495ED", "#EE82EE"]}, "legend": null}}},
  {"data": {"name": "marks"}, "transform": [{"filter": "datum.panel == 6"}], "mark": {"type": "point", "shape": "circle", "filled": true, "size": 2916, "color": "black", "opacity": 1}},
  {"data": {"name": "marks"}, "transform": [{"filter": "datum.panel == 6"}], "mark": {"type": "text", "color": "white", "fontSize": 38, "font": "Liberation Sans", "align": "center", "baseline": "middle"}, "encoding": {"text": {"field": "num"}}}
 ]},
{"width": 135, "height": 249, "view": {"stroke": null}, "data": {"values": []}, "mark": "point"},
{"width": 220, "height": 243, "data": {"name": "roc"}, "transform": [{"filter": "datum.row == 2"}],
 "mark": {"type": "line", "strokeWidth": 1.8},
 "encoding": {
  "x": {"field": "fpr", "type": "quantitative", "scale": {"domain": [-0.05, 1.05], "nice": false, "zero": false}, "axis": {"values": [0, 0.5, 1], "format": ".1f", "title": null, "labelFontSize": 19}},
  "y": {"field": "tpr", "type": "quantitative", "scale": {"domain": [-0.05, 1.05], "nice": false, "zero": false}, "axis": {"values": [0, 0.5, 1], "format": ".1f", "title": null, "labelFontSize": 19}},
  "order": {"field": "i", "type": "quantitative"},
  "color": {"field": "model", "type": "nominal", "scale": {"domain": ["model 4", "model 5", "model 6"], "range": ["#1f77b4", "#ff7f0e", "#2ca02c"]},
   "legend": {"orient": "bottom-right", "title": null, "offset": 10, "padding": 4, "strokeColor": "#d0d0d0", "fillColor": "white", "cornerRadius": 4, "symbolType": "stroke", "symbolSize": 1600, "symbolStrokeWidth": 2, "labelFontSize": 20, "labelFont": "DejaVu Sans", "labelOffset": 20, "rowPadding": -8, "labelColor": "#222"}}
 }}
 ]},

{"spacing": 0, "bounds": "flush", "resolve": {"scale": {"color": "independent"}, "legend": {"color": "independent"}},
 "hconcat": [
{"width": 155, "height": 249, "view": {"stroke": null, "fill": "white"}, "data": {"name": "auroc"}, "transform": [{"filter": "datum.row == 3"}],
 "encoding": {"x": {"value": "width"}},
 "layer": [
  {"transform": [{"calculate": "[datum.name, '']", "as": "lines"}], "mark": {"type": "text", "align": "right", "baseline": "middle", "font": "Liberation Sans", "fontWeight": "bold", "fontSize": 39, "lineHeight": 43, "dy": -52, "color": "black"}, "encoding": {"text": {"field": "lines"}}},
  {"transform": [{"calculate": "['', datum.auroc]", "as": "lines"}], "mark": {"type": "text", "align": "right", "baseline": "middle", "font": "Liberation Sans", "fontSize": 39, "lineHeight": 43, "dy": -52, "color": "black"}, "encoding": {"text": {"field": "lines"}}}
 ]},
{"width": 84, "height": 249, "view": {"stroke": null}, "data": {"values": []}, "mark": "point"},
{"width": 423, "height": 249,
 "encoding": {
  "x": {"field": "x0", "type": "quantitative", "scale": {"domain": [0, 1], "nice": false, "zero": false}, "axis": {"values": [0, 0.2, 0.4, 0.6, 0.8, 1], "format": ".1f", "title": "OOD scores", "titleFont": "Liberation Sans", "titleFontStyle": "italic", "titleFontWeight": "normal", "titleFontSize": 41, "titlePadding": 1}},
  "y": {"field": "density", "type": "quantitative", "scale": {"domain": [0, 10.97], "nice": false}, "axis": {"values": [0, 2, 4, 6, 8, 10], "title": "density", "titleFont": "Liberation Sans", "titleFontStyle": "italic", "titleFontWeight": "normal", "titleFontSize": 38, "titlePadding": 2}}},
 "layer": [
  {"data": {"name": "hist"}, "transform": [{"filter": "datum.panel == 7"}], "mark": {"type": "rect", "opacity": 0.72}, "encoding": {"x2": {"field": "x1"}, "y2": {"datum": 0}, "color": {"field": "set", "type": "nominal", "scale": {"domain": ["ID samples", "OOD samples"], "range": ["#6495ED", "#EE82EE"]}, "legend": null}}},
  {"data": {"name": "marks"}, "transform": [{"filter": "datum.panel == 7"}], "mark": {"type": "point", "shape": "circle", "filled": true, "size": 2916, "color": "black", "opacity": 1}},
  {"data": {"name": "marks"}, "transform": [{"filter": "datum.panel == 7"}], "mark": {"type": "text", "color": "white", "fontSize": 38, "font": "Liberation Sans", "align": "center", "baseline": "middle"}, "encoding": {"text": {"field": "num"}}}
 ]},
{"width": 61, "height": 249, "view": {"stroke": null}, "data": {"values": []}, "mark": "point"},
{"width": 452, "height": 249,
 "encoding": {
  "x": {"field": "x0", "type": "quantitative", "scale": {"domain": [0, 1], "nice": false, "zero": false}, "axis": {"values": [0, 0.2, 0.4, 0.6, 0.8, 1], "format": ".1f", "title": null}},
  "y": {"field": "density", "type": "quantitative", "scale": {"domain": [0, 6.43], "nice": false}, "axis": {"values": [0, 2, 4, 6], "title": null}}},
 "layer": [
  {"data": {"name": "hist"}, "transform": [{"filter": "datum.panel == 8"}], "mark": {"type": "rect", "opacity": 0.72}, "encoding": {"x2": {"field": "x1"}, "y2": {"datum": 0}, "color": {"field": "set", "type": "nominal", "scale": {"domain": ["ID samples", "OOD samples"], "range": ["#6495ED", "#EE82EE"]}, "legend": null}}},
  {"data": {"name": "marks"}, "transform": [{"filter": "datum.panel == 8"}], "mark": {"type": "point", "shape": "circle", "filled": true, "size": 2916, "color": "black", "opacity": 1}},
  {"data": {"name": "marks"}, "transform": [{"filter": "datum.panel == 8"}], "mark": {"type": "text", "color": "white", "fontSize": 38, "font": "Liberation Sans", "align": "center", "baseline": "middle"}, "encoding": {"text": {"field": "num"}}}
 ]},
{"width": 62, "height": 249, "view": {"stroke": null}, "data": {"values": []}, "mark": "point"},
{"width": 440, "height": 249,
 "encoding": {
  "x": {"field": "x0", "type": "quantitative", "scale": {"domain": [0, 1], "nice": false, "zero": false}, "axis": {"values": [0, 0.2, 0.4, 0.6, 0.8, 1], "format": ".1f", "title": null}},
  "y": {"field": "density", "type": "quantitative", "scale": {"domain": [0, 3.47], "nice": false}, "axis": {"values": [0, 1, 2, 3], "title": null}}},
 "layer": [
  {"data": {"name": "hist"}, "transform": [{"filter": "datum.panel == 9"}], "mark": {"type": "rect", "opacity": 0.72}, "encoding": {"x2": {"field": "x1"}, "y2": {"datum": 0}, "color": {"field": "set", "type": "nominal", "scale": {"domain": ["ID samples", "OOD samples"], "range": ["#6495ED", "#EE82EE"]}, "legend": null}}},
  {"data": {"name": "marks"}, "transform": [{"filter": "datum.panel == 9"}], "mark": {"type": "point", "shape": "circle", "filled": true, "size": 2916, "color": "black", "opacity": 1}},
  {"data": {"name": "marks"}, "transform": [{"filter": "datum.panel == 9"}], "mark": {"type": "text", "color": "white", "fontSize": 38, "font": "Liberation Sans", "align": "center", "baseline": "middle"}, "encoding": {"text": {"field": "num"}}}
 ]},
{"width": 135, "height": 249, "view": {"stroke": null}, "data": {"values": []}, "mark": "point"},
{"width": 220, "height": 243, "data": {"name": "roc"}, "transform": [{"filter": "datum.row == 3"}],
 "mark": {"type": "line", "strokeWidth": 1.8},
 "encoding": {
  "x": {"field": "fpr", "type": "quantitative", "scale": {"domain": [-0.05, 1.05], "nice": false, "zero": false}, "axis": {"values": [0, 0.5, 1], "format": ".1f", "title": "False Positive Rate", "titleFont": "DejaVu Sans", "titleFontSize": 20, "titleFontWeight": "normal", "titlePadding": 8, "labelFontSize": 19}},
  "y": {"field": "tpr", "type": "quantitative", "scale": {"domain": [-0.05, 1.05], "nice": false, "zero": false}, "axis": {"values": [0, 0.5, 1], "format": ".1f", "title": "True Positive Rate", "titleFont": "DejaVu Sans", "titleFontSize": 20, "titleFontWeight": "normal", "titlePadding": 10, "labelFontSize": 19}},
  "order": {"field": "i", "type": "quantitative"},
  "color": {"field": "model", "type": "nominal", "scale": {"domain": ["model 7", "model 8", "model 9"], "range": ["#1f77b4", "#ff7f0e", "#2ca02c"]},
   "legend": {"orient": "bottom-right", "title": null, "offset": 10, "padding": 4, "strokeColor": "#d0d0d0", "fillColor": "white", "cornerRadius": 4, "symbolType": "stroke", "symbolSize": 1600, "symbolStrokeWidth": 2, "labelFontSize": 20, "labelFont": "DejaVu Sans", "labelOffset": 20, "rowPadding": -8, "labelColor": "#222"}}
 }}
 ]}
]
}
